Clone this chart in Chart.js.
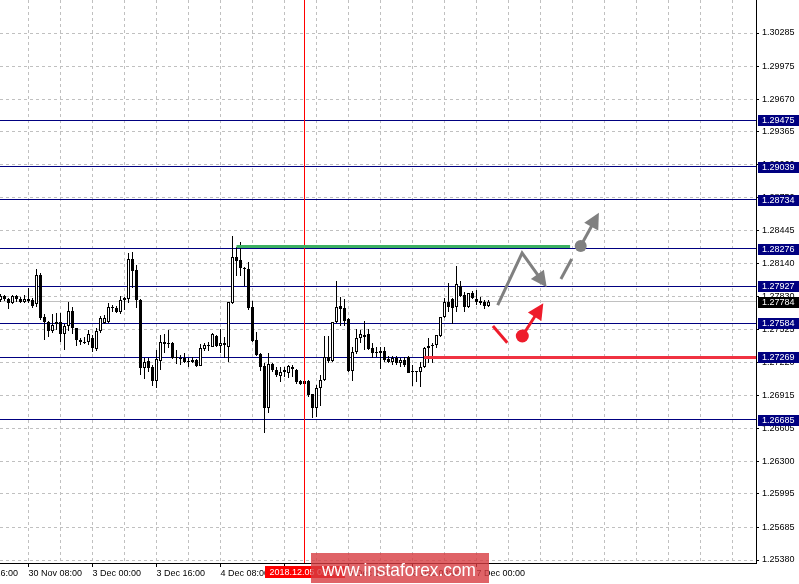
<!DOCTYPE html>
<html>
<head>
<meta charset="utf-8">
<script src="https://cdn.jsdelivr.net/npm/chart.js@4.4.0/dist/chart.umd.min.js"></script>
<style>
    html, body { margin: 0; padding: 0; background: #ffffff; }
    canvas { display: block; }
</style>
</head>
<body>
<canvas id="gbpChart" width="799" height="584"></canvas>
<script>
// Nến H1, từ 30 Nov 01:00 đến 7 Dec 03:00
var openPrices = [
    1.27800, 1.27837, 1.27809, 1.27772, 1.27837, 1.27809, 1.27781, 1.27809, 1.27800, 1.27763,
    1.28033, 1.27642, 1.27595, 1.27511, 1.27595, 1.27595, 1.27484, 1.27558, 1.27698, 1.27539,
    1.27428, 1.27409, 1.27409, 1.27446, 1.27344, 1.27511, 1.27586, 1.27595, 1.27735, 1.27726,
    1.27688, 1.27800, 1.27809, 1.28182, 1.28079, 1.27800, 1.27167, 1.27232, 1.27176, 1.27046,
    1.27232, 1.27409, 1.27400, 1.27400, 1.27269, 1.27260, 1.27260, 1.27232, 1.27242, 1.27242,
    1.27186, 1.27344, 1.27381, 1.27363, 1.27465, 1.27372, 1.27381, 1.27363, 1.27772, 1.28200,
    1.28172, 1.28098, 1.28089, 1.27735, 1.27428, 1.27297, 1.27186, 1.26795, 1.27204, 1.27149,
    1.27093, 1.27149, 1.27121, 1.27158, 1.27149, 1.27046, 1.27046, 1.27046, 1.26925, 1.26795,
    1.26981, 1.27055, 1.27269, 1.27232, 1.27595, 1.27744, 1.27726, 1.27623, 1.27139, 1.27316,
    1.27446, 1.27474, 1.27484, 1.27353, 1.27316, 1.27307, 1.27325, 1.27251, 1.27223, 1.27260,
    1.27214, 1.27242, 1.27269, 1.27139, 1.27139, 1.27130, 1.27176, 1.27353, 1.27372, 1.27381,
    1.27465, 1.27642, 1.27781, 1.27809, 1.27735, 1.27930, 1.27847, 1.27735, 1.27865, 1.27809,
    1.27791, 1.27781, 1.27744
];
var highPrices = [
    1.27856, 1.27847, 1.27819, 1.27847, 1.27847, 1.27828, 1.27847, 1.27912, 1.27819, 1.28089,
    1.28051, 1.27670, 1.27605, 1.27670, 1.27679, 1.27679, 1.27577, 1.27781, 1.27735, 1.27539,
    1.27446, 1.27456, 1.27521, 1.27474, 1.27539, 1.27651, 1.27660, 1.27772, 1.27753, 1.27744,
    1.27837, 1.27828, 1.28237, 1.28247, 1.28126, 1.27809, 1.27260, 1.27260, 1.27195, 1.27335,
    1.27474, 1.27484, 1.27521, 1.27409, 1.27335, 1.27288, 1.27307, 1.27260, 1.27269, 1.27251,
    1.27391, 1.27400, 1.27409, 1.27493, 1.27474, 1.27530, 1.27456, 1.27781, 1.28396, 1.28293,
    1.28340, 1.28107, 1.28154, 1.27791, 1.27502, 1.27307, 1.27214, 1.27307, 1.27214, 1.27176,
    1.27176, 1.27176, 1.27195, 1.27195, 1.27158, 1.27055, 1.27055, 1.27055, 1.26925, 1.27009,
    1.27102, 1.27465, 1.27465, 1.27595, 1.27977, 1.27828, 1.27809, 1.27632, 1.27363, 1.27530,
    1.27521, 1.27605, 1.27530, 1.27400, 1.27363, 1.27363, 1.27363, 1.27279, 1.27279, 1.27279,
    1.27260, 1.27269, 1.27279, 1.27195, 1.27139, 1.27223, 1.27363, 1.27446, 1.27400, 1.27474,
    1.27642, 1.27819, 1.27958, 1.27819, 1.28116, 1.27977, 1.27874, 1.27865, 1.27884, 1.27893,
    1.27828, 1.27800, 1.27800
];
var lowPrices = [
    1.27781, 1.27791, 1.27716, 1.27763, 1.27781, 1.27772, 1.27772, 1.27772, 1.27726, 1.27735,
    1.27614, 1.27428, 1.27456, 1.27493, 1.27521, 1.27409, 1.27335, 1.27511, 1.27484, 1.27372,
    1.27381, 1.27391, 1.27381, 1.27316, 1.27325, 1.27493, 1.27577, 1.27586, 1.27688, 1.27679,
    1.27670, 1.27707, 1.27772, 1.27912, 1.27726, 1.27102, 1.27065, 1.27130, 1.27000, 1.26981,
    1.27149, 1.27307, 1.27353, 1.27251, 1.27204, 1.27195, 1.27214, 1.27176, 1.27214, 1.27176,
    1.27186, 1.27325, 1.27325, 1.27363, 1.27363, 1.27307, 1.27260, 1.27223, 1.27763, 1.28023,
    1.28023, 1.27930, 1.27707, 1.27409, 1.27279, 1.27139, 1.26562, 1.26748, 1.27130, 1.27083,
    1.27037, 1.27083, 1.27074, 1.27083, 1.27018, 1.27009, 1.27009, 1.26897, 1.26702, 1.26711,
    1.26813, 1.27046, 1.27214, 1.27223, 1.27586, 1.27558, 1.27558, 1.27130, 1.27046, 1.27297,
    1.27400, 1.27335, 1.27335, 1.27260, 1.27269, 1.27158, 1.27223, 1.27214, 1.27195, 1.27195,
    1.27176, 1.27176, 1.27121, 1.27000, 1.27037, 1.26990, 1.27167, 1.27214, 1.27214, 1.27353,
    1.27456, 1.27632, 1.27688, 1.27577, 1.27688, 1.27828, 1.27688, 1.27726, 1.27809, 1.27753,
    1.27753, 1.27716, 1.27735
];
var closePrices = [
    1.27837, 1.27809, 1.27772, 1.27837, 1.27809, 1.27781, 1.27809, 1.27791, 1.27744, 1.28033,
    1.27632, 1.27595, 1.27511, 1.27567, 1.27577, 1.27484, 1.27558, 1.27698, 1.27539, 1.27428,
    1.27409, 1.27400, 1.27484, 1.27353, 1.27511, 1.27632, 1.27632, 1.27735, 1.27726, 1.27688,
    1.27800, 1.27819, 1.28182, 1.28070, 1.27800, 1.27167, 1.27223, 1.27167, 1.27046, 1.27251,
    1.27409, 1.27391, 1.27391, 1.27260, 1.27260, 1.27251, 1.27223, 1.27223, 1.27223, 1.27186,
    1.27353, 1.27381, 1.27372, 1.27484, 1.27372, 1.27400, 1.27400, 1.27781, 1.28200, 1.28163,
    1.28098, 1.28089, 1.27726, 1.27418, 1.27288, 1.27176, 1.26795, 1.27204, 1.27149, 1.27102,
    1.27130, 1.27130, 1.27186, 1.27176, 1.27037, 1.27018, 1.27018, 1.26916, 1.26795, 1.26981,
    1.27055, 1.27269, 1.27232, 1.27595, 1.27735, 1.27716, 1.27605, 1.27139, 1.27316, 1.27446,
    1.27484, 1.27456, 1.27344, 1.27307, 1.27307, 1.27325, 1.27242, 1.27223, 1.27260, 1.27214,
    1.27242, 1.27195, 1.27121, 1.27130, 1.27130, 1.27176, 1.27353, 1.27372, 1.27381, 1.27474,
    1.27642, 1.27781, 1.27735, 1.27726, 1.27949, 1.27837, 1.27735, 1.27865, 1.27819, 1.27781,
    1.27772, 1.27744, 1.27784
];

// Nhãn trục thời gian (mỗi 16 nến, bắt đầu từ nến -9)
var xTickLabels = [
    "29 Nov 16:00", "30 Nov 08:00", "3 Dec 00:00", "3 Dec 16:00", "4 Dec 08:00",
    "5 Dec 00:00", "5 Dec 16:00", "6 Dec 08:00", "7 Dec 00:00"
];
var firstLabelBar = -9;

// Nhãn trục giá
var yTickValues = [
    1.30285, 1.29975, 1.29670, 1.29365, 1.29060, 1.28750, 1.28445, 1.28140, 1.27830,
    1.27525, 1.27220, 1.26915, 1.26605, 1.26300, 1.25995, 1.25685, 1.25380
];

// Các mức hỗ trợ / kháng cự
var levelValues = [1.29475, 1.29039, 1.28734, 1.28276, 1.27927, 1.27584, 1.27269, 1.26685];
var bidPrice = 1.27784;
var greenLevel = { price: 1.28300, from: 59, to: 142.4 };
var redLevel = { price: 1.27269, from: 105.9 };
var cursorBar = 76;
var cursorLabel = "2018.12.05 05:00";

// Kịch bản (nến, giá)
var grayZigzag = [[124.3, 1.27753], [130.4, 1.28237], [136.55, 1.27918]];
var grayDash = [[140.1, 1.27995], [142.8, 1.28182]];
var grayDot = [145.05, 1.28303];
var grayTip = [149.6, 1.28613];
var redDash = [[123.1, 1.27558], [126.7, 1.27403]];
var redDot = [130.45, 1.27465];
var redTip = [135.7, 1.27769];

var wickData = [];
var bodyData = [];
var bodyColors = [];
for (var i = 0; i < openPrices.length; i++) {
    wickData.push({ x: i, y: [lowPrices[i], highPrices[i]] });
    bodyData.push({ x: i, y: [openPrices[i], closePrices[i]] });
    bodyColors.push(closePrices[i] >= openPrices[i] ? "#ffffff" : "#000000");
}

var FONT = '"Liberation Sans", Arial, sans-serif';
Chart.defaults.font.family = FONT;
Chart.defaults.font.size = 9;
Chart.defaults.color = "#000000";

function crisp(v) {
    return Math.round(v - 0.5) + 0.5;
}

function drawArrowHead(ctx, from, to, len, half) {
    var a = Math.atan2(to[1] - from[1], to[0] - from[0]);
    var bx = to[0] - len * Math.cos(a);
    var by = to[1] - len * Math.sin(a);
    ctx.beginPath();
    ctx.moveTo(to[0], to[1]);
    ctx.lineTo(bx + half * Math.sin(a), by - half * Math.cos(a));
    ctx.lineTo(bx - half * Math.sin(a), by + half * Math.cos(a));
    ctx.closePath();
    ctx.fill();
}

function shortenTo(from, to, d) {
    var a = Math.atan2(to[1] - from[1], to[0] - from[0]);
    return [to[0] - d * Math.cos(a), to[1] - d * Math.sin(a)];
}

var overlayPlugin = {
    id: "overlay",
    beforeDatasetsDraw: function (chart) {
        var ctx = chart.ctx, ys = chart.scales.y, area = chart.chartArea;
        ctx.save();
        ctx.lineWidth = 1;
        // đường giá bid
        ctx.strokeStyle = "#c0c0c0";
        var by = crisp(ys.getPixelForValue(bidPrice));
        ctx.beginPath(); ctx.moveTo(area.left, by); ctx.lineTo(area.right, by); ctx.stroke();
        // các mức ngang
        ctx.strokeStyle = "#000080";
        levelValues.forEach(function (v) {
            var py = crisp(ys.getPixelForValue(v));
            ctx.beginPath(); ctx.moveTo(area.left, py); ctx.lineTo(area.right, py); ctx.stroke();
        });
        ctx.restore();
    },
    afterDatasetsDraw: function (chart) {
        var ctx = chart.ctx, xs = chart.scales.x, ys = chart.scales.y, area = chart.chartArea;
        function P(pt) { return [xs.getPixelForValue(pt[0]), ys.getPixelForValue(pt[1])]; }
        ctx.save();
        ctx.beginPath();
        ctx.rect(area.left, area.top, area.right - area.left, area.bottom - area.top);
        ctx.clip();

        // đường đỏ dọc
        var cx = crisp(xs.getPixelForValue(cursorBar));
        ctx.strokeStyle = "#ff0000";
        ctx.lineWidth = 1;
        ctx.beginPath(); ctx.moveTo(cx, area.top); ctx.lineTo(cx, area.bottom); ctx.stroke();

        // mức xanh và đỏ
        ctx.lineWidth = 3;
        var gy = crisp(ys.getPixelForValue(greenLevel.price));
        ctx.strokeStyle = "#3cb062";
        ctx.beginPath();
        ctx.moveTo(xs.getPixelForValue(greenLevel.from), gy);
        ctx.lineTo(xs.getPixelForValue(greenLevel.to), gy);
        ctx.stroke();
        var ry = crisp(ys.getPixelForValue(redLevel.price));
        ctx.strokeStyle = "#f03241";
        ctx.beginPath();
        ctx.moveTo(xs.getPixelForValue(redLevel.from), ry);
        ctx.lineTo(area.right, ry);
        ctx.stroke();

        // mũi tên xám
        ctx.lineCap = "butt";
        ctx.lineJoin = "miter";
        ctx.strokeStyle = "#808080";
        ctx.fillStyle = "#808080";
        ctx.lineWidth = 3;
        var z = grayZigzag.map(P);
        var zEnd = shortenTo(z[1], z[2], 8);
        ctx.beginPath(); ctx.moveTo(z[0][0], z[0][1]); ctx.lineTo(z[1][0], z[1][1]); ctx.lineTo(zEnd[0], zEnd[1]); ctx.stroke();
        drawArrowHead(ctx, z[1], z[2], 16, 8);
        var d = grayDash.map(P);
        ctx.beginPath(); ctx.moveTo(d[0][0], d[0][1]); ctx.lineTo(d[1][0], d[1][1]); ctx.stroke();
        var gd = P(grayDot), gt = P(grayTip);
        ctx.beginPath(); ctx.arc(gd[0], gd[1], 6, 0, Math.PI * 2); ctx.fill();
        var gEnd = shortenTo(gd, gt, 8);
        ctx.beginPath(); ctx.moveTo(gd[0], gd[1]); ctx.lineTo(gEnd[0], gEnd[1]); ctx.stroke();
        drawArrowHead(ctx, gd, gt, 16, 8);

        // mũi tên đỏ
        ctx.strokeStyle = "#ee1c2b";
        ctx.fillStyle = "#ee1c2b";
        var r = redDash.map(P);
        ctx.beginPath(); ctx.moveTo(r[0][0], r[0][1]); ctx.lineTo(r[1][0], r[1][1]); ctx.stroke();
        var rd = P(redDot), rt = P(redTip);
        ctx.beginPath(); ctx.arc(rd[0], rd[1], 6.5, 0, Math.PI * 2); ctx.fill();
        var rEnd = shortenTo(rd, rt, 8);
        ctx.beginPath(); ctx.moveTo(rd[0], rd[1]); ctx.lineTo(rEnd[0], rEnd[1]); ctx.stroke();
        drawArrowHead(ctx, rd, rt, 16, 8);
        ctx.restore();
    },
    afterDraw: function (chart) {
        var ctx = chart.ctx, xs = chart.scales.x, ys = chart.scales.y, area = chart.chartArea;
        ctx.save();
        ctx.font = "9px " + FONT;
        ctx.textBaseline = "middle";
        ctx.textAlign = "left";
        function tag(v, bg) {
            var py = Math.round(ys.getPixelForValue(v));
            ctx.fillStyle = bg;
            ctx.fillRect(area.right + 2, py - 5, chart.width - area.right - 2, 11);
            ctx.fillStyle = "#ffffff";
            ctx.fillText(v.toFixed(5), area.right + 6, py + 0.5);
        }
        levelValues.forEach(function (v) { tag(v, "#000080"); });
        tag(bidPrice, "#000000");

        // nhãn thời gian của đường đỏ
        var cx = xs.getPixelForValue(cursorBar);
        ctx.fillStyle = "#ff0000";
        ctx.fillRect(Math.round(cx - 40), area.bottom + 3, 80, 12);
        ctx.fillStyle = "#ffffff";
        ctx.textAlign = "center";
        ctx.fillText(cursorLabel, cx, area.bottom + 9.5);

        // watermark
        ctx.fillStyle = "rgba(215, 60, 65, 0.8)";
        ctx.fillRect(311, 553, 178, 30);
        ctx.fillStyle = "#ffffff";
        ctx.textAlign = "left";
        ctx.textBaseline = "alphabetic";
        ctx.font = "19px " + FONT;
        ctx.fillText("www.instaforex.com", 322, 575.5, 154);
        ctx.restore();
    }
};

var ctx = document.getElementById("gbpChart").getContext("2d");
new Chart(ctx, {
    type: "bar",
    data: {
        datasets: [
            {
                label: "body",
                data: bodyData,
                backgroundColor: bodyColors,
                borderColor: "#000000",
                borderWidth: 1,
                borderSkipped: false,
                barThickness: 3,
                grouped: false,
                inflateAmount: 0,
                order: 0,
            },
            {
                label: "wick",
                data: wickData,
                backgroundColor: "#000000",
                borderWidth: 0,
                barThickness: 1,
                grouped: false,
                inflateAmount: 0,
                order: 1,
            },
        ],
    },
    options: {
        responsive: false,
        animation: false,
        devicePixelRatio: 1,
        layout: { padding: 0 },
        plugins: {
            legend: { display: false },
            tooltip: { enabled: false },
        },
        scales: {
            x: {
                type: "linear",
                position: "bottom",
                offset: false,
                min: -0.125,
                max: 188.875,
                afterBuildTicks: function (scale) {
                    var ticks = [{ value: firstLabelBar }];
                    for (var k = 7; k <= 183; k += 8) ticks.push({ value: k });
                    scale.ticks = ticks;
                },
                afterFit: function (scale) {
                    scale.height = 21;
                    scale.paddingLeft = 0;
                    scale.paddingRight = 0;
                },
                ticks: {
                    autoSkip: false,
                    maxRotation: 0,
                    minRotation: 0,
                    align: "start",
                    padding: 1,
                    callback: function (value) {
                        var n = (value - firstLabelBar) / 16;
                        if (Number.isInteger(n) && n < xTickLabels.length) return xTickLabels[n];
                        return "";
                    },
                },
                grid: {
                    offset: false,
                    color: "#c0c0c0",
                    tickLength: 4,
                    tickColor: function (c) {
                        return c.tick && c.tick.label ? "#000000" : "rgba(0,0,0,0)";
                    },
                },
                border: { display: true, color: "#000000", dash: [3, 3] },
            },
            y: {
                type: "linear",
                position: "right",
                min: 1.253521,
                max: 1.3059215,
                afterBuildTicks: function (scale) {
                    scale.ticks = yTickValues.map(function (v) { return { value: v }; });
                },
                afterFit: function (scale) {
                    scale.width = 43;
                    scale.paddingTop = 0;
                    scale.paddingBottom = 0;
                },
                ticks: {
                    autoSkip: false,
                    padding: 3,
                    callback: function (value) {
                        return value.toFixed(5);
                    },
                },
                grid: {
                    color: "#c0c0c0",
                    tickLength: 3,
                    tickColor: "#000000",
                },
                border: { display: true, color: "#000000", dash: [3, 3] },
            },
        },
    },
    plugins: [overlayPlugin],
});
</script>
</body>
</html>
